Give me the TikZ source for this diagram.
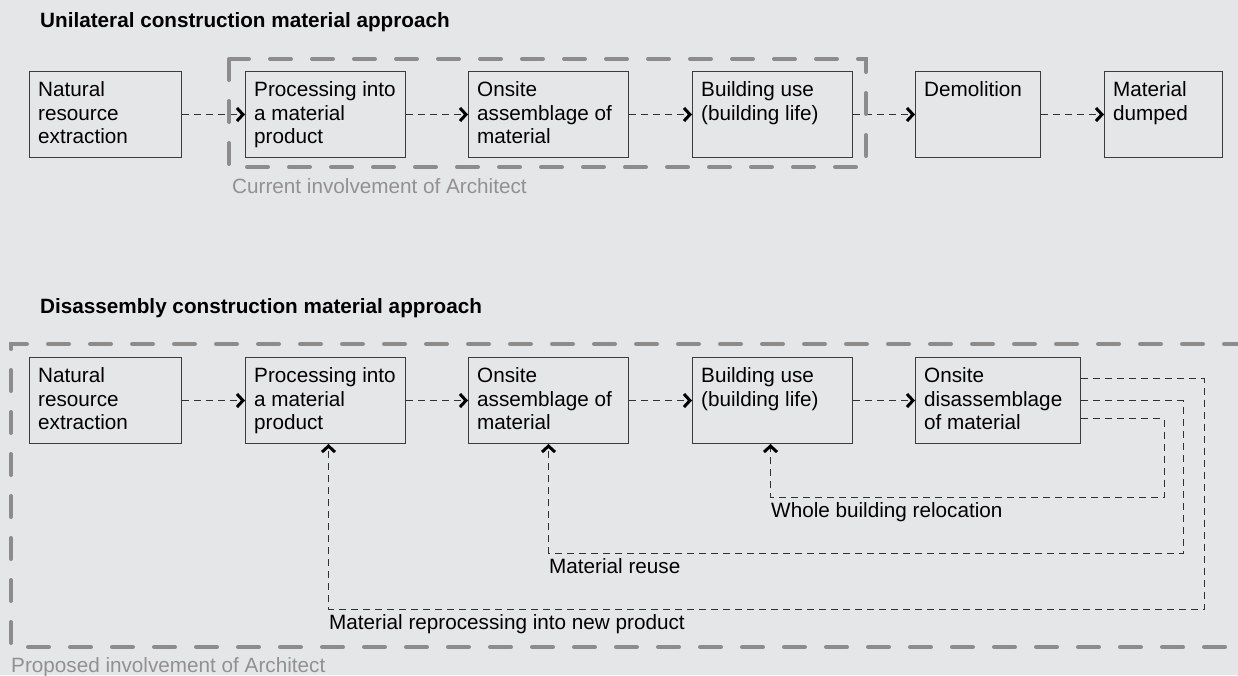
\documentclass[tikz,border=0pt]{standalone}
\usepackage{fontspec}
\setmainfont{Liberation Sans}
\usetikzlibrary{arrows.meta}

\definecolor{canvas}{RGB}{229,230,232}
\definecolor{boxline}{RGB}{60,60,60}
\definecolor{flowline}{RGB}{50,50,50}
\definecolor{frame}{RGB}{140,140,140}
\definecolor{frametext}{RGB}{145,145,145}

\tikzset{
  stage/.style={draw=boxline, line width=1pt, minimum height=86pt,
    inner sep=0pt, anchor=north west},
  stagetext/.style={anchor=north west, align=left, inner sep=0pt,
    font=\fontsize{20.7}{23.5}\selectfont},
  heading/.style={anchor=base west, inner sep=0pt,
    font=\fontsize{20.7}{24}\selectfont\bfseries},
  note/.style={anchor=base west, inner sep=0pt,
    font=\fontsize{20.7}{24}\selectfont},
  framenote/.style={note, text=frametext},
  flow/.style={draw=flowline, line width=0.9pt, dash pattern=on 7pt off 5pt,
    -{Straight Barb[length=6pt, width=13pt, line width=3pt, color=black]}},
  involve/.style={draw=frame, line width=4pt, line cap=round,
    dash pattern=on 21pt off 21pt},
}

\begin{document}
\begin{tikzpicture}[x=1pt, y=-1pt]
\fill[canvas] (0,0) rectangle (1238,675);
\useasboundingbox (0,0) rectangle (1238,675);

% ---------- unilateral approach ----------
\node[heading] (h1) at (40,27) {Unilateral construction material approach};

\node[stage, minimum width=152pt] (a1) at (29,71) {};
\node[stage, minimum width=160pt] (a2) at (245,71) {};
\node[stage, minimum width=160pt] (a3) at (468,71) {};
\node[stage, minimum width=160pt] (a4) at (692,71) {};
\node[stage, minimum width=125pt] (a5) at (915,71) {};
\node[stage, minimum width=118pt] (a6) at (1104,71) {};

\node[stagetext] (a1t) at ([xshift=9pt,yshift=-10.5pt]a1.north west) {Natural\\resource\\extraction};
\node[stagetext] (a2t) at ([xshift=9pt,yshift=-10.5pt]a2.north west) {Processing into\\a material\\product};
\node[stagetext] (a3t) at ([xshift=9pt,yshift=-10.5pt]a3.north west) {Onsite\\assemblage of\\material};
\node[stagetext] (a4t) at ([xshift=9pt,yshift=-10.5pt]a4.north west) {Building use\\(building life)};
\node[stagetext] (a5t) at ([xshift=9pt,yshift=-10.5pt]a5.north west) {Demolition};
\node[stagetext] (a6t) at ([xshift=9pt,yshift=-10.5pt]a6.north west) {Material\\dumped};

\draw[flow] (a1.east) -- (a2.west);
\draw[flow] (a2.east) -- (a3.west);
\draw[flow] (a3.east) -- (a4.west);
\draw[flow] (a4.east) -- (a5.west);
\draw[flow] (a5.east) -- (a6.west);

% current scope of the architect
\draw[involve] (229,59) rectangle (866,167);
\node[framenote] (cur) at (232,193) {Current involvement of Architect};

% ---------- disassembly approach ----------
\node[heading] (h2) at (40,313) {Disassembly construction material approach};

\node[stage, minimum width=152pt] (b1) at (29,357) {};
\node[stage, minimum width=160pt] (b2) at (245,357) {};
\node[stage, minimum width=160pt] (b3) at (468,357) {};
\node[stage, minimum width=160pt] (b4) at (692,357) {};
\node[stage, minimum width=165pt] (b5) at (915,357) {};

\node[stagetext] (b1t) at ([xshift=9pt,yshift=-10.5pt]b1.north west) {Natural\\resource\\extraction};
\node[stagetext] (b2t) at ([xshift=9pt,yshift=-10.5pt]b2.north west) {Processing into\\a material\\product};
\node[stagetext] (b3t) at ([xshift=9pt,yshift=-10.5pt]b3.north west) {Onsite\\assemblage of\\material};
\node[stagetext] (b4t) at ([xshift=9pt,yshift=-10.5pt]b4.north west) {Building use\\(building life)};
\node[stagetext] (b5t) at ([xshift=9pt,yshift=-10.5pt]b5.north west) {Onsite\\disassemblage\\of material};

\draw[flow] (b1.east) -- (b2.west);
\draw[flow] (b2.east) -- (b3.west);
\draw[flow] (b3.east) -- (b4.west);
\draw[flow] (b4.east) -- (b5.west);

% return loops
\coordinate (loopA) at (1164,497);
\coordinate (loopB) at (1183,553);
\coordinate (loopC) at (1204,609);

\draw[flow] ([yshift=-18pt]b5.east) -| (loopA) -| ([xshift=-2pt]b4.south);
\draw[flow] (b5.east) -| (loopB) -| (b3.south);
\draw[flow] ([yshift=22pt]b5.east) -| (loopC) -| ([xshift=3pt]b2.south);

\node[note] (lA) at (771,517) {Whole building relocation};
\node[note] (lB) at (549,573) {Material reuse};
\node[note] (lC) at (329,629) {Material reprocessing into new product};

% proposed scope of the architect
\draw[involve] (1245,344) -- (11,344) -- (11,647) -- (1245,647);
\node[framenote] (prop) at (11,672) {Proposed involvement of Architect};
\end{tikzpicture}
\end{document}
